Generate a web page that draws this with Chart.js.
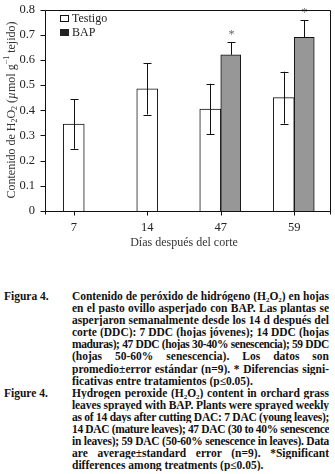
<!DOCTYPE html>
<html>
<head>
<meta charset="utf-8">
<script src="https://cdn.jsdelivr.net/npm/chart.js@4/dist/chart.umd.min.js"></script>
<style>
  body { margin: 0; background: #fff; width: 335px; height: 474px; position: relative; overflow: hidden; }
  #chart { position: absolute; left: 0; top: 0; }
  .cap { position: absolute; left: 0; top: 290px; width: 335px; font: bold 11.5px "Liberation Serif", serif; line-height: 12.1px; color: #111; }
  .fig { position: relative; margin-left: 72px; width: 257px; }
  .lab { position: absolute; left: -68px; top: 0; }
  .ln { text-align: justify; text-align-last: justify; white-space: nowrap; overflow: hidden; }
  .ln.last { text-align-last: left; }
  .sb { font-size: 7px; vertical-align: -2px; line-height: 0; }
</style>
</head>
<body>
<canvas id="chart" width="335" height="260"></canvas>

<div class="cap">
  <div class="fig">
    <span class="lab">Figura 4.</span>
    <div class="ln">Contenido de peróxido de hidrógeno (H<span class="sb">2</span>O<span class="sb">2</span>) en hojas</div>
    <div class="ln">en el pasto ovillo asperjado con BAP. Las plantas se</div>
    <div class="ln">asperjaron semanalmente desde los 14 d después del</div>
    <div class="ln">corte (DDC): 7 DDC (hojas jóvenes); 14 DDC (hojas</div>
    <div class="ln">maduras); 47 DDC (hojas 30-40% senescencia); 59 DDC</div>
    <div class="ln">(hojas 50-60% senescencia). Los datos son</div>
    <div class="ln">promedio±error estándar (n=9). * Diferencias signi-</div>
    <div class="ln last">ficativas entre tratamientos (p≤0.05).</div>
  </div>
  <div class="fig">
    <span class="lab">Figure 4.</span>
    <div class="ln">Hydrogen peroxide (H<span class="sb">2</span>O<span class="sb">2</span>) content in orchard grass</div>
    <div class="ln">leaves sprayed with BAP. Plants were sprayed weekly</div>
    <div class="ln">as of 14 days after cutting DAC: 7 DAC (young leaves);</div>
    <div class="ln">14 DAC (mature leaves); 47 DAC (30 to 40% senescence</div>
    <div class="ln">in leaves); 59 DAC (50-60% senescence in leaves). Data</div>
    <div class="ln">are average±standard error (n=9). *Significant</div>
    <div class="ln last">differences among treatments (p≤0.05).</div>
  </div>
</div>

<script>
// days after cutting
const days = ['7', '14', '47', '59'];

// H2O2 content, umol g-1 tissue
const testigo = [0.345, 0.485, 0.405, 0.45];
const testigoErr = [0.098, 0.102, 0.1, 0.103];
const bap = [null, null, 0.62, 0.69];
const bapErr = [null, null, 0.05, 0.068];
const signif = ['', '', '*', '*'];

const yTicks = [0, 0.1, 0.2, 0.3, 0.4, 0.5, 0.6, 0.7, 0.8];

const serif = '"Liberation Serif", "Times New Roman", serif';

// squeeze caption lines that are too long for the column
document.querySelectorAll('.ln').forEach(el => {
    let ls = 0;
    while (el.scrollWidth > el.clientWidth && ls > -1) {
        ls -= 0.05;
        el.style.letterSpacing = ls + 'px';
    }
});

// draw text pieces (normal, sub, sup, italic) one after another
function richText(ctx, parts, x, y) {
    let w = 0;
    parts.forEach(p => {
        ctx.font = (p.it ? 'italic ' : '') + (p.sub || p.sup ? 8 : 12) + 'px ' + serif;
        w += ctx.measureText(p.t).width;
    });
    let cx = x - w / 2;
    parts.forEach(p => {
        ctx.font = (p.it ? 'italic ' : '') + (p.sub || p.sup ? 8 : 12) + 'px ' + serif;
        const dy = p.sub ? 3 : (p.sup ? -5 : 0);
        ctx.fillText(p.t, cx, y + dy);
        cx += ctx.measureText(p.t).width;
    });
}

const extras = {
    id: 'extras',
    afterDatasetsDraw(chart) {
        const ctx = chart.ctx;
        const xs = chart.scales.x, ys = chart.scales.y;
        const axisX = 45.5, right = 330.5;
        const top = Math.round(ys.getPixelForValue(0.8)) + 0.5;
        const bottom = Math.round(ys.getPixelForValue(0)) + 0.5;
        ctx.save();
        ctx.strokeStyle = '#111';
        ctx.lineWidth = 1;

        // error bars
        [[testigo, testigoErr, 0, true], [bap, bapErr, 1, false]].forEach(([vals, errs, di, both]) => {
            const meta = chart.getDatasetMeta(di);
            vals.forEach((v, i) => {
                if (v === null) return;
                const x = Math.round(meta.data[i].x) + 0.5;
                const yHi = ys.getPixelForValue(v + errs[i]);
                const yLo = both ? ys.getPixelForValue(v - errs[i]) : ys.getPixelForValue(v);
                ctx.beginPath();
                ctx.moveTo(x, yHi); ctx.lineTo(x, yLo);
                ctx.moveTo(x - 4, Math.round(yHi) + 0.5); ctx.lineTo(x + 4, Math.round(yHi) + 0.5);
                if (both) { ctx.moveTo(x - 4, Math.round(yLo) + 0.5); ctx.lineTo(x + 4, Math.round(yLo) + 0.5); }
                ctx.stroke();
                if (di === 1 && signif[i]) {
                    ctx.fillStyle = '#666';
                    ctx.font = '12px ' + serif;
                    ctx.textAlign = 'center';
                    ctx.textBaseline = 'middle';
                    ctx.fillText(signif[i], x, yHi - 7);
                }
            });
        });

        // frame and axes
        ctx.beginPath();
        ctx.moveTo(axisX, top); ctx.lineTo(right, top);
        ctx.moveTo(right, top); ctx.lineTo(right, bottom + 3);
        ctx.moveTo(axisX, top); ctx.lineTo(axisX, bottom + 3);
        ctx.moveTo(axisX, bottom); ctx.lineTo(right, bottom);
        yTicks.forEach(t => {
            const y = Math.round(ys.getPixelForValue(t)) + 0.5;
            ctx.moveTo(axisX - 5, y); ctx.lineTo(axisX, y);
        });
        days.forEach((d, i) => {
            const x = Math.round(xs.getPixelForValue(i)) + 0.5;
            ctx.moveTo(x, bottom); ctx.lineTo(x, bottom + 4);
        });
        ctx.stroke();

        // legend
        ctx.font = '12px ' + serif;
        ctx.textAlign = 'left';
        ctx.textBaseline = 'middle';
        ctx.fillStyle = '#fff';
        ctx.fillRect(60.5, 15.5, 8, 6);
        ctx.strokeRect(60.5, 15.5, 8, 6);
        ctx.fillStyle = '#222';
        ctx.fillRect(60, 29, 9, 7);
        ctx.fillText('Testigo', 72, 18.5);
        ctx.fillText('BAP', 72, 32.5);

        // axis titles
        ctx.fillStyle = '#333';
        ctx.textAlign = 'center';
        ctx.textBaseline = 'middle';
        ctx.font = '12px ' + serif;
        ctx.fillText('Días después del corte', 184, 243);

        ctx.translate(12, 110);
        ctx.rotate(-Math.PI / 2);
        ctx.textAlign = 'left';
        richText(ctx, [
            { t: 'Contenido de H' }, { t: '2', sub: true }, { t: 'O' }, { t: '2', sub: true },
            { t: ' (' }, { t: 'µ', it: true }, { t: 'mol g' }, { t: '−1', sup: true }, { t: ' tejido)' }
        ], 0, 0);
        ctx.restore();
    }
};

new Chart(document.getElementById('chart'), {
    type: 'bar',
    data: {
        labels: days,
        datasets: [{
            label: 'Testigo',
            data: testigo,
            backgroundColor: '#ffffff',
            borderColor: '#111',
            borderWidth: 1,
            barThickness: 21,
            skipNull: true
        }, {
            label: 'BAP',
            data: bap,
            backgroundColor: '#979797',
            borderColor: '#111',
            borderWidth: 1,
            barThickness: 20,
            skipNull: true
        }]
    },
    options: {
        responsive: false,
        animation: false,
        devicePixelRatio: 1,
        layout: { padding: { top: 6, right: 4, left: 0, bottom: 0 } },
        plugins: { legend: { display: false }, tooltip: { enabled: false } },
        scales: {
            x: {
                grid: { display: false, drawTicks: false },
                border: { display: false },
                ticks: { color: '#222', font: { family: serif, size: 12.5 }, padding: 9, maxRotation: 0 },
                afterFit: s => { s.height = 49; }
            },
            y: {
                min: 0,
                max: 0.8,
                grid: { display: false, drawTicks: false },
                border: { display: false },
                afterBuildTicks: s => { s.ticks = yTicks.map(v => ({ value: v })); },
                ticks: {
                    color: '#222',
                    font: { family: serif, size: 12.5 },
                    padding: 2,
                    callback: v => v === 0 ? '0' : v.toFixed(1)
                },
                afterFit: s => { s.width = 37; }
            }
        }
    },
    plugins: [extras]
});
</script>
</body>
</html>
